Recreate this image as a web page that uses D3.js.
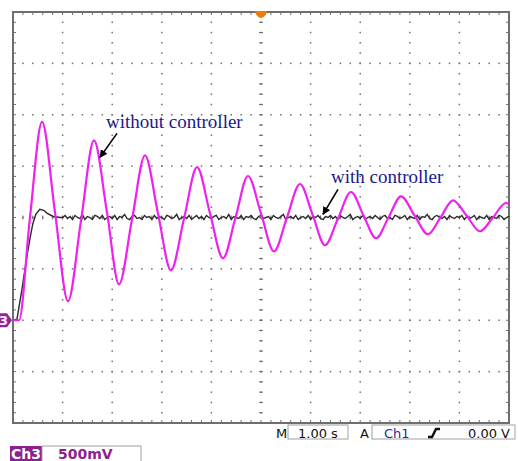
<!DOCTYPE html>
<html>
<head>
<meta charset="utf-8">
<script src="https://cdn.jsdelivr.net/npm/d3@7"></script>
<style>
  body { margin: 0; background: #fff; }
  svg { display: block; }
</style>
</head>
<body>
<svg width="518" height="461"></svg>
<script>
// Ch3 (magenta) - without controller: extrema and mid-crossings, [time s, volts]
const ch3Points = [
    [0, 0], [0.12, 0], [0.34, 0.99], [0.585, 1.93], [0.847, 1.05], [1.109, 0.185],
    [1.371, 0.97], [1.633, 1.75], [1.895, 1.05], [2.137, 0.35], [2.399, 0.98],
    [2.661, 1.605], [2.923, 1.04], [3.185, 0.486], [3.448, 0.99], [3.71, 1.49],
    [3.972, 1.04], [4.234, 0.603], [4.486, 1.0], [4.738, 1.404], [5.0, 1.04],
    [5.262, 0.671], [5.524, 1.0], [5.786, 1.326], [6.038, 1.03], [6.29, 0.73],
    [6.552, 0.99], [6.815, 1.248], [7.067, 1.02], [7.319, 0.798], [7.571, 1.0],
    [7.823, 1.206], [8.095, 1.02], [8.367, 0.837], [8.619, 1.0], [8.871, 1.167],
    [9.143, 1.02], [9.415, 0.866], [9.677, 1.0], [9.94, 1.141], [10, 1.13]
];

// Ch1 (black) - with controller: step response, then noisy steady state
const ch1Rise = [
    [0, 0], [0.08, 0.01], [0.18, 0.3], [0.28, 0.62], [0.34, 0.79], [0.40, 0.94],
    [0.46, 1.03], [0.54, 1.08], [0.62, 1.07], [0.69, 1.04], [0.81, 1.01], [0.95, 1.0]
];
const ch1SteadyStart = 1.0;
const ch1SampleStep = 0.05;
const ch1Steady = [
    1.00,1.02,0.99,1.01,0.98,1.02,1.00,0.99,1.03,0.98,1.01,1.00,0.98,1.02,1.01,0.99,1.02,0.98,1.00,1.01,
    0.99,1.02,0.98,1.01,1.00,1.03,0.99,0.98,1.01,1.02,0.99,1.00,0.98,1.02,1.00,1.01,0.98,1.02,0.99,1.01,
    1.00,0.98,1.02,1.01,0.99,1.00,1.03,0.98,1.00,1.01,0.99,1.02,0.98,1.00,1.02,0.99,1.01,0.98,1.02,1.00,
    0.99,1.01,1.02,0.98,1.00,1.01,0.99,1.03,0.98,1.01,1.00,0.99,1.02,0.98,1.01,1.00,1.02,0.99,0.98,1.01,
    1.02,0.99,1.00,1.01,0.98,1.02,1.00,0.99,1.01,1.03,0.98,1.00,1.01,0.99,1.02,0.98,1.00,1.01,0.99,1.02,
    0.98,1.01,1.00,1.02,0.99,0.98,1.01,1.00,1.02,0.99,1.01,0.98,1.02,1.00,0.99,1.01,1.03,0.98,1.00,1.01,
    0.99,1.02,0.98,1.00,1.01,0.99,1.02,1.00,0.98,1.01,1.02,0.99,1.00,0.98,1.02,1.01,0.99,1.00,1.02,0.98,
    1.01,1.00,0.99,1.02,0.98,1.01,1.00,1.03,0.99,0.98,1.01,1.02,1.00,0.99,1.01,0.98,1.02,1.00,0.99,1.01,
    1.00,1.02,0.98,1.01,0.99,1.00,1.02,0.98,1.01,1.00,0.99,1.02,0.98,1.01,1.00,0.99,1.02,1.01,0.98,1.00,1.01
];

// annotation text with arrow (text anchor, arrow tail, arrow tip), in [s, V]
const annotations = [
    { label: 'without controller', text: [1.875, 1.868], from: [2.097, 1.819], to: [1.754, 1.586] },
    { label: 'with controller', text: [6.411, 1.333], from: [6.552, 1.274], to: [6.25, 1.031] }
];

// scope settings
const timeDivs = d3.range(0, 11, 1);          // 1.00 s/div
const voltDivs = d3.range(-1, 3.01, 0.5);     // 500 mV/div, ground 2 div below centre
const readout = { timebase: '1.00 s', trigSource: 'Ch1', trigLevel: '0.00 V', ch3Scale: '500mV' };

const svg = d3.select('svg');
const x = d3.scaleLinear().domain([0, 10]).range([13, 509]);
const y = d3.scaleLinear().domain([-1, 3]).range([423, 12]);
const gridColor = '#6e6e6e';

// ---- graticule ----
const grid = svg.append('g');
const minorT = d3.range(0, 10.001, 0.2);
const minorV = d3.range(-1, 3.001, 0.1);

// dotted vertical lines
timeDivs.slice(1, -1).forEach(t => {
    grid.selectAll(null).data(minorV).enter().append('rect')
        .attr('x', x(t) - 0.75).attr('y', d => y(d) - 0.75)
        .attr('width', 1.5).attr('height', 1.5).attr('fill', gridColor);
});
// dotted horizontal lines
voltDivs.slice(1, -1).forEach(v => {
    grid.selectAll(null).data(minorT).enter().append('rect')
        .attr('x', d => x(d) - 0.75).attr('y', y(v) - 0.75)
        .attr('width', 1.5).attr('height', 1.5).attr('fill', gridColor);
});
// centre cross ticks
grid.selectAll(null).data(minorT).enter().append('line')
    .attr('x1', d => x(d)).attr('x2', d => x(d))
    .attr('y1', y(1) - 2).attr('y2', y(1) + 2)
    .attr('stroke', gridColor).attr('stroke-width', 1);
grid.selectAll(null).data(minorV).enter().append('line')
    .attr('y1', d => y(d)).attr('y2', d => y(d))
    .attr('x1', x(5) - 2).attr('x2', x(5) + 2)
    .attr('stroke', gridColor).attr('stroke-width', 1);
// edge ticks
grid.selectAll(null).data(minorT).enter().append('line')
    .attr('x1', d => x(d)).attr('x2', d => x(d))
    .attr('y1', y(3)).attr('y2', y(3) + 3)
    .attr('stroke', gridColor);
grid.selectAll(null).data(minorT).enter().append('line')
    .attr('x1', d => x(d)).attr('x2', d => x(d))
    .attr('y1', y(-1)).attr('y2', y(-1) - 3)
    .attr('stroke', gridColor);
grid.selectAll(null).data(minorV).enter().append('line')
    .attr('y1', d => y(d)).attr('y2', d => y(d))
    .attr('x1', x(0)).attr('x2', x(0) + 3)
    .attr('stroke', gridColor);
grid.selectAll(null).data(minorV).enter().append('line')
    .attr('y1', d => y(d)).attr('y2', d => y(d))
    .attr('x1', x(10)).attr('x2', x(10) - 3)
    .attr('stroke', gridColor);
// frame
grid.append('rect')
    .attr('x', x(0)).attr('y', y(3))
    .attr('width', x(10) - x(0)).attr('height', y(-1) - y(3))
    .attr('fill', 'none').attr('stroke', '#6e6e6e').attr('stroke-width', 2);

// ---- traces ----
const line = d3.line().x(d => x(d[0])).y(d => y(d[1]));

const ch1Data = ch1Rise.concat(ch1Steady.map((v, i) => [ch1SteadyStart + i * ch1SampleStep, v]));
svg.append('path')
    .datum(ch1Data)
    .attr('d', line)
    .attr('fill', 'none')
    .attr('stroke', '#2a2a2a')
    .attr('stroke-width', 1.4);

svg.append('path')
    .datum(ch3Points)
    .attr('d', line.curve(d3.curveMonotoneX))
    .attr('fill', 'none')
    .attr('stroke', '#f020f0')
    .attr('stroke-width', 2.2);

// ---- annotations ----
svg.append('defs').append('marker')
    .attr('id', 'arrow')
    .attr('viewBox', '0 0 10 10')
    .attr('refX', 9).attr('refY', 5)
    .attr('markerWidth', 5).attr('markerHeight', 5)
    .attr('orient', 'auto')
    .append('path').attr('d', 'M0,0 L10,5 L0,10 Z').attr('fill', '#000');

const ann = svg.append('g');
ann.selectAll('line').data(annotations).enter().append('line')
    .attr('x1', d => x(d.from[0])).attr('y1', d => y(d.from[1]))
    .attr('x2', d => x(d.to[0])).attr('y2', d => y(d.to[1]))
    .attr('stroke', '#000').attr('stroke-width', 1.6)
    .attr('marker-end', 'url(#arrow)');
ann.selectAll('text').data(annotations).enter().append('text')
    .attr('x', d => x(d.text[0])).attr('y', d => y(d.text[1]))
    .attr('font-family', '"Liberation Serif", "Times New Roman", serif')
    .attr('font-size', 19)
    .attr('fill', '#1a1a8c')
    .text(d => d.label);

// ---- markers ----
// trigger position
svg.append('path')
    .attr('d', `M${x(5) - 6},${y(3) - 1} L${x(5) + 6},${y(3) - 1} Q${x(5) + 5},${y(3) + 5} ${x(5)},${y(3) + 6} Q${x(5) - 5},${y(3) + 5} ${x(5) - 6},${y(3) - 1} Z`)
    .attr('fill', '#f07a10');
// Ch3 ground marker
const gy = y(0);
svg.append('path')
    .attr('d', `M-2,${gy - 7} L7,${gy - 7} L12,${gy} L7,${gy + 7} L-2,${gy + 7} Z`)
    .attr('fill', '#9a1f9a');
svg.append('text')
    .attr('x', -1).attr('y', gy + 5)
    .attr('font-family', '"DejaVu Sans", sans-serif')
    .attr('font-size', 13).attr('font-weight', 'bold')
    .attr('fill', '#fff')
    .text('3');

// ---- readout ----
const ro = svg.append('g').attr('font-family', '"DejaVu Sans", sans-serif').attr('font-size', 13);
ro.append('text').attr('x', 276).attr('y', 438).attr('fill', '#111').text('M');
ro.append('rect').attr('x', 288).attr('y', 425).attr('width', 60).attr('height', 14)
    .attr('fill', '#fff').attr('stroke', '#a0a0a0');
ro.append('text').attr('x', 298).attr('y', 438).attr('fill', '#111').text(readout.timebase);
ro.append('text').attr('x', 360).attr('y', 438).attr('fill', '#111').text('A');
ro.append('rect').attr('x', 372).attr('y', 425).attr('width', 143).attr('height', 14)
    .attr('fill', '#fff').attr('stroke', '#a0a0a0');
ro.append('text').attr('x', 384).attr('y', 438).attr('fill', '#1f2a9e').text(readout.trigSource);
ro.append('path').attr('d', 'M428,437 L432,437 L436,429 L440,429')
    .attr('fill', 'none').attr('stroke', '#111').attr('stroke-width', 2.4);
ro.append('text').attr('x', 510).attr('y', 438).attr('text-anchor', 'end').attr('fill', '#111')
    .text(readout.trigLevel);

const ch = svg.append('g').attr('font-family', '"DejaVu Sans", sans-serif').attr('font-size', 14)
    .attr('font-weight', 'bold');
ch.append('rect').attr('x', 10).attr('y', 446).attr('width', 32).attr('height', 16).attr('fill', '#8e1f8e');
ch.append('text').attr('x', 11).attr('y', 459).attr('fill', '#fff').text('Ch3');
ch.append('rect').attr('x', 42).attr('y', 446).attr('width', 99).attr('height', 16)
    .attr('fill', '#fff').attr('stroke', '#a0a0a0');
ch.append('text').attr('x', 58).attr('y', 459).attr('fill', '#8e1f8e').text(readout.ch3Scale);
</script>
</body>
</html>
